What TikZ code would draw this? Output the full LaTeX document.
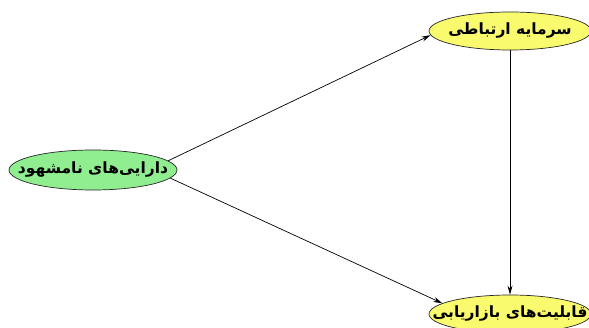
\documentclass[tikz,border=0pt]{standalone}
\usepackage{fontspec}
\newfontfamily\farsi[Script=Arabic]{DejaVu Sans}
\TeXXeTstate=1
\usetikzlibrary{arrows.meta,shapes}
\definecolor{nodegreen}{RGB}{144,238,144}
\definecolor{nodeyellow}{RGB}{250,250,110}
\newcommand{\fa}[1]{\makebox[0pt]{\farsi\bfseries\fontsize{15.5}{18}\selectfont\beginR #1\endR}}
\tikzset{
graph/.style={>={Stealth[length=9pt,width=5pt]},line width=0.7pt,x=1pt,y=-1pt},
concept/.style={ellipse,draw=black!85,inner sep=0pt,minimum width=162pt,minimum height=38pt},
source/.style={concept,fill=nodegreen,minimum height=40pt,minimum width=168pt},
target/.style={concept,fill=nodeyellow},
}

\begin{document}
\begin{tikzpicture}[graph]
    \useasboundingbox (0,0) rectangle (589,328);

    \node[source] (asset) at (93,170) {\fa{دارایی‌های نامشهود}};
    \node[target] (capital) at (510,31) {\fa{سرمایه ارتباطی}};
    \node[target] (market) at (510,314) {\fa{قابلیت‌های بازاریابی}};

    \path[->]
        (asset.7) edge (capital.183)
        (asset.-6) edge (market.171)
        (capital.south) edge (market.north)
    ;
\end{tikzpicture}
\end{document}
